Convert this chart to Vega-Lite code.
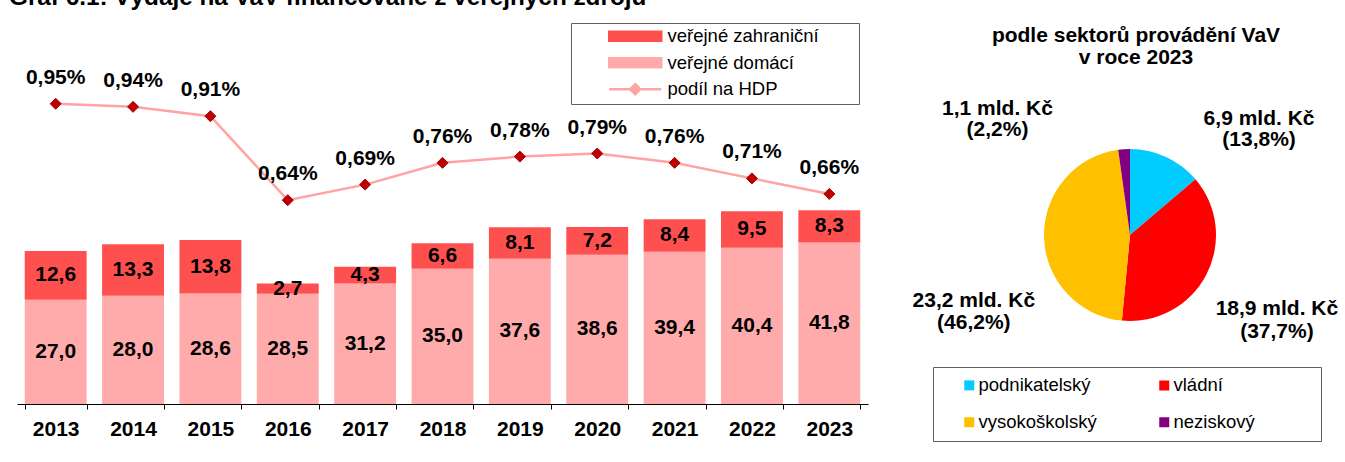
{
  "$schema": "https://vega.github.io/schema/vega-lite/v6.json",
  "padding": {"left": 9, "top": -15, "right": 0, "bottom": 0},
  "background": "white",
  "title": {"text": "Graf 6.1: Výdaje na VaV financované z veřejných zdrojů", "anchor": "start", "fontSize": 24.3, "fontWeight": "bold", "offset": 4, "dx": -8, "color": "black"},
  "datasets": {
    "vydaje": [
      {"rok": "2013", "serie": "veřejné domácí", "mld": 27.0},
      {"rok": "2013", "serie": "veřejné zahraniční", "mld": 12.6},
      {"rok": "2014", "serie": "veřejné domácí", "mld": 28.0},
      {"rok": "2014", "serie": "veřejné zahraniční", "mld": 13.3},
      {"rok": "2015", "serie": "veřejné domácí", "mld": 28.6},
      {"rok": "2015", "serie": "veřejné zahraniční", "mld": 13.8},
      {"rok": "2016", "serie": "veřejné domácí", "mld": 28.5},
      {"rok": "2016", "serie": "veřejné zahraniční", "mld": 2.7},
      {"rok": "2017", "serie": "veřejné domácí", "mld": 31.2},
      {"rok": "2017", "serie": "veřejné zahraniční", "mld": 4.3},
      {"rok": "2018", "serie": "veřejné domácí", "mld": 35.0},
      {"rok": "2018", "serie": "veřejné zahraniční", "mld": 6.6},
      {"rok": "2019", "serie": "veřejné domácí", "mld": 37.6},
      {"rok": "2019", "serie": "veřejné zahraniční", "mld": 8.1},
      {"rok": "2020", "serie": "veřejné domácí", "mld": 38.6},
      {"rok": "2020", "serie": "veřejné zahraniční", "mld": 7.2},
      {"rok": "2021", "serie": "veřejné domácí", "mld": 39.4},
      {"rok": "2021", "serie": "veřejné zahraniční", "mld": 8.4},
      {"rok": "2022", "serie": "veřejné domácí", "mld": 40.4},
      {"rok": "2022", "serie": "veřejné zahraniční", "mld": 9.5},
      {"rok": "2023", "serie": "veřejné domácí", "mld": 41.8},
      {"rok": "2023", "serie": "veřejné zahraniční", "mld": 8.3}
    ],
    "hdp": [
      {"rok": "2013", "podil": 0.0095},
      {"rok": "2014", "podil": 0.0094},
      {"rok": "2015", "podil": 0.0091},
      {"rok": "2016", "podil": 0.0064},
      {"rok": "2017", "podil": 0.0069},
      {"rok": "2018", "podil": 0.0076},
      {"rok": "2019", "podil": 0.0078},
      {"rok": "2020", "podil": 0.0079},
      {"rok": "2021", "podil": 0.0076},
      {"rok": "2022", "podil": 0.0071},
      {"rok": "2023", "podil": 0.0066}
    ],
    "sektory": [
      {"sektor": "podnikatelský", "poradi": 1, "mld": 6.9, "popisek": "6,9 mld. Kč\n(13,8%)"},
      {"sektor": "vládní", "poradi": 2, "mld": 18.9, "popisek": "18,9 mld. Kč\n(37,7%)"},
      {"sektor": "vysokoškolský", "poradi": 3, "mld": 23.2, "popisek": "23,2 mld. Kč\n(46,2%)"},
      {"sektor": "neziskový", "poradi": 4, "mld": 1.1, "popisek": "1,1 mld. Kč\n(2,2%)"}
    ]
  },
  "bounds": "flush",
  "spacing": 56,
  "resolve": {"scale": {"color": "independent"}, "legend": {"color": "independent"}},
  "hconcat": [
    {
      "width": 851,
      "height": 390,
      "resolve": {"scale": {"y": "independent"}},
      "layer": [
        {
          "data": {"name": "vydaje"},
          "layer": [
            {
              "mark": {"type": "bar"},
              "encoding": {
                "x": {"field": "rok", "type": "ordinal", "scale": {"paddingInner": 0.2, "paddingOuter": 0.1},
                  "axis": {"title": null, "labelFontSize": 21, "labelFontWeight": "bold", "labelColor": "black", "labelAngle": 0, "domainColor": "black", "tickColor": "black", "tickSize": 5, "tickBand": "extent", "labelPadding": 9, "grid": false}},
                "y": {"field": "mld", "type": "quantitative", "stack": "zero", "scale": {"domain": [0, 100.9], "nice": false, "zero": false}, "axis": null},
                "color": {"field": "serie", "type": "nominal",
                  "scale": {"domain": ["veřejné zahraniční", "veřejné domácí", "podíl na HDP"], "range": ["#FF5050", "#FFABAB", "#FFA3A3"]},
                  "legend": {
                    "title": null, "orient": "top-right", "offset": 9, "padding": 4,
                    "strokeColor": "#606060", "fillColor": "white",
                    "labelFontSize": 18.5, "labelColor": "black", "labelLimit": 400,
                    "symbolSize": 100, "symbolOffset": 51, "labelOffset": 23, "rowPadding": 6.5,
                    "encode": {"symbols": {"update": {
                      "shape": {"signal": "datum.value === 'podíl na HDP' ? 'M-5.2,0H5.2M0,-1L1,0L0,1L-1,0ZM42.8,0' : 'M-5.2,-0.9H5.2V0.9H-5.2ZM42.8,0'"},
                      "fill": {"signal": "datum.value === 'podíl na HDP' ? '#C00000' : (datum.value === 'veřejné zahraniční' ? '#FF5050' : '#FFABAB')"},
                      "stroke": {"signal": "datum.value === 'podíl na HDP' ? '#FFA3A3' : 'transparent'"},
                      "strokeWidth": {"value": 2.5},
                      "opacity": {"value": 1}
                    }}}
                  }},
                "order": {"field": "serie", "sort": "ascending"}
              }
            },
            {
              "transform": [
                {"stack": "mld", "groupby": ["rok"], "sort": [{"field": "serie", "order": "ascending"}], "as": ["s0", "s1"]},
                {"fold": ["s0", "s1"], "as": ["mez", "hodnota"]}
              ],
              "mark": {"type": "text", "fontSize": 21, "fontWeight": "bold", "baseline": "middle", "color": "black"},
              "encoding": {
                "x": {"field": "rok", "type": "ordinal"},
                "y": {"field": "hodnota", "aggregate": "mean", "type": "quantitative", "scale": {"domain": [0, 100.9], "nice": false, "zero": false}},
                "text": {"field": "mld", "type": "quantitative", "format": ".1f"},
                "detail": {"field": "serie", "type": "nominal"}
              }
            }
          ]
        },
        {
          "data": {"name": "hdp"},
          "layer": [
            {
              "mark": {"type": "line", "strokeWidth": 2.5},
              "encoding": {
                "x": {"field": "rok", "type": "ordinal"},
                "y": {"field": "podil", "type": "quantitative", "scale": {"domain": [-0.000155, 0.012386], "nice": false, "zero": false}, "axis": null},
                "color": {"datum": "podíl na HDP", "type": "nominal"}
              }
            },
            {
              "mark": {"type": "point", "shape": "diamond", "filled": true, "size": 121, "fill": "#C00000", "stroke": "#A00000", "strokeWidth": 1, "opacity": 1},
              "encoding": {
                "x": {"field": "rok", "type": "ordinal"},
                "y": {"field": "podil", "type": "quantitative"}
              }
            },
            {
              "mark": {"type": "text", "fontSize": 21, "fontWeight": "bold", "dy": -26, "baseline": "middle", "color": "black"},
              "encoding": {
                "x": {"field": "rok", "type": "ordinal"},
                "y": {"field": "podil", "type": "quantitative"},
                "text": {"field": "podil", "type": "quantitative", "format": ".2%"}
              }
            }
          ]
        }
      ]
    },
    {
      "width": 412,
      "height": 442,
      "title": {"text": ["podle sektorů provádění VaV", "v roce 2023"], "offset": -54, "fontSize": 21, "fontWeight": "bold", "lineHeight": 22, "anchor": "middle", "dx": 6, "color": "black"},
      "data": {"name": "sektory"},
      "layer": [
        {
          "mark": {"type": "arc", "outerRadius": 86},
          "encoding": {
            "theta": {"field": "mld", "type": "quantitative", "stack": true},
            "color": {"field": "sektor", "type": "nominal",
              "scale": {"domain": ["podnikatelský", "vládní", "vysokoškolský", "neziskový"], "range": ["#00CCFF", "#FF0000", "#FFC000", "#800080"]},
              "legend": {
                "title": null, "orient": "bottom-right", "offset": 15, "direction": "horizontal", "columns": 2, "columnPadding": 40,
                "rowPadding": 18, "padding": 9, "strokeColor": "#606060", "fillColor": "white",
                "symbolType": "square", "symbolSize": 100, "symbolOffset": 18, "labelOffset": 0,
                "labelFontSize": 18.5, "labelColor": "black", "labelLimit": 400,
                "encode": {"symbols": {"update": {
                  "shape": {"signal": "(datum.value === 'vládní' || datum.value === 'neziskový') ? 'M-1,-1H1V1H-1ZM29.4,0' : 'M-1,-1H1V1H-1Z'"},
                  "opacity": {"value": 1}
                }}}
              }},
            "order": {"field": "poradi", "type": "quantitative"}
          }
        },
        {
          "transform": [{"filter": "datum.sektor === 'podnikatelský'"}],
          "mark": {"type": "text", "theta": 0.876, "radius": 168, "dy": -8, "fontSize": 21, "fontWeight": "bold", "lineBreak": "\n", "lineHeight": 21, "align": "center", "baseline": "middle", "color": "black"},
          "encoding": {"text": {"field": "popisek", "type": "nominal"}}
        },
        {
          "transform": [{"filter": "datum.sektor === 'vládní'"}],
          "mark": {"type": "text", "theta": 2.077, "radius": 168, "dy": -7, "fontSize": 21, "fontWeight": "bold", "lineBreak": "\n", "lineHeight": 23, "align": "center", "baseline": "middle", "color": "black"},
          "encoding": {"text": {"field": "popisek", "type": "nominal"}}
        },
        {
          "transform": [{"filter": "datum.sektor === 'vysokoškolský'"}],
          "mark": {"type": "text", "theta": 4.28, "radius": 172, "dy": -6, "fontSize": 21, "fontWeight": "bold", "lineBreak": "\n", "lineHeight": 22, "align": "center", "baseline": "middle", "color": "black"},
          "encoding": {"text": {"field": "popisek", "type": "nominal"}}
        },
        {
          "transform": [{"filter": "datum.sektor === 'neziskový'"}],
          "mark": {"type": "text", "theta": 5.437, "radius": 177, "dy": -9, "fontSize": 21, "fontWeight": "bold", "lineBreak": "\n", "lineHeight": 21, "align": "center", "baseline": "middle", "color": "black"},
          "encoding": {"text": {"field": "popisek", "type": "nominal"}}
        }
      ]
    }
  ],
  "config": {
    "font": "Liberation Sans",
    "view": {"stroke": null},
    "locale": {"number": {"decimal": ",", "thousands": " ", "grouping": [3], "currency": ["", " Kč"], "percent": "%"}}
  }
}
